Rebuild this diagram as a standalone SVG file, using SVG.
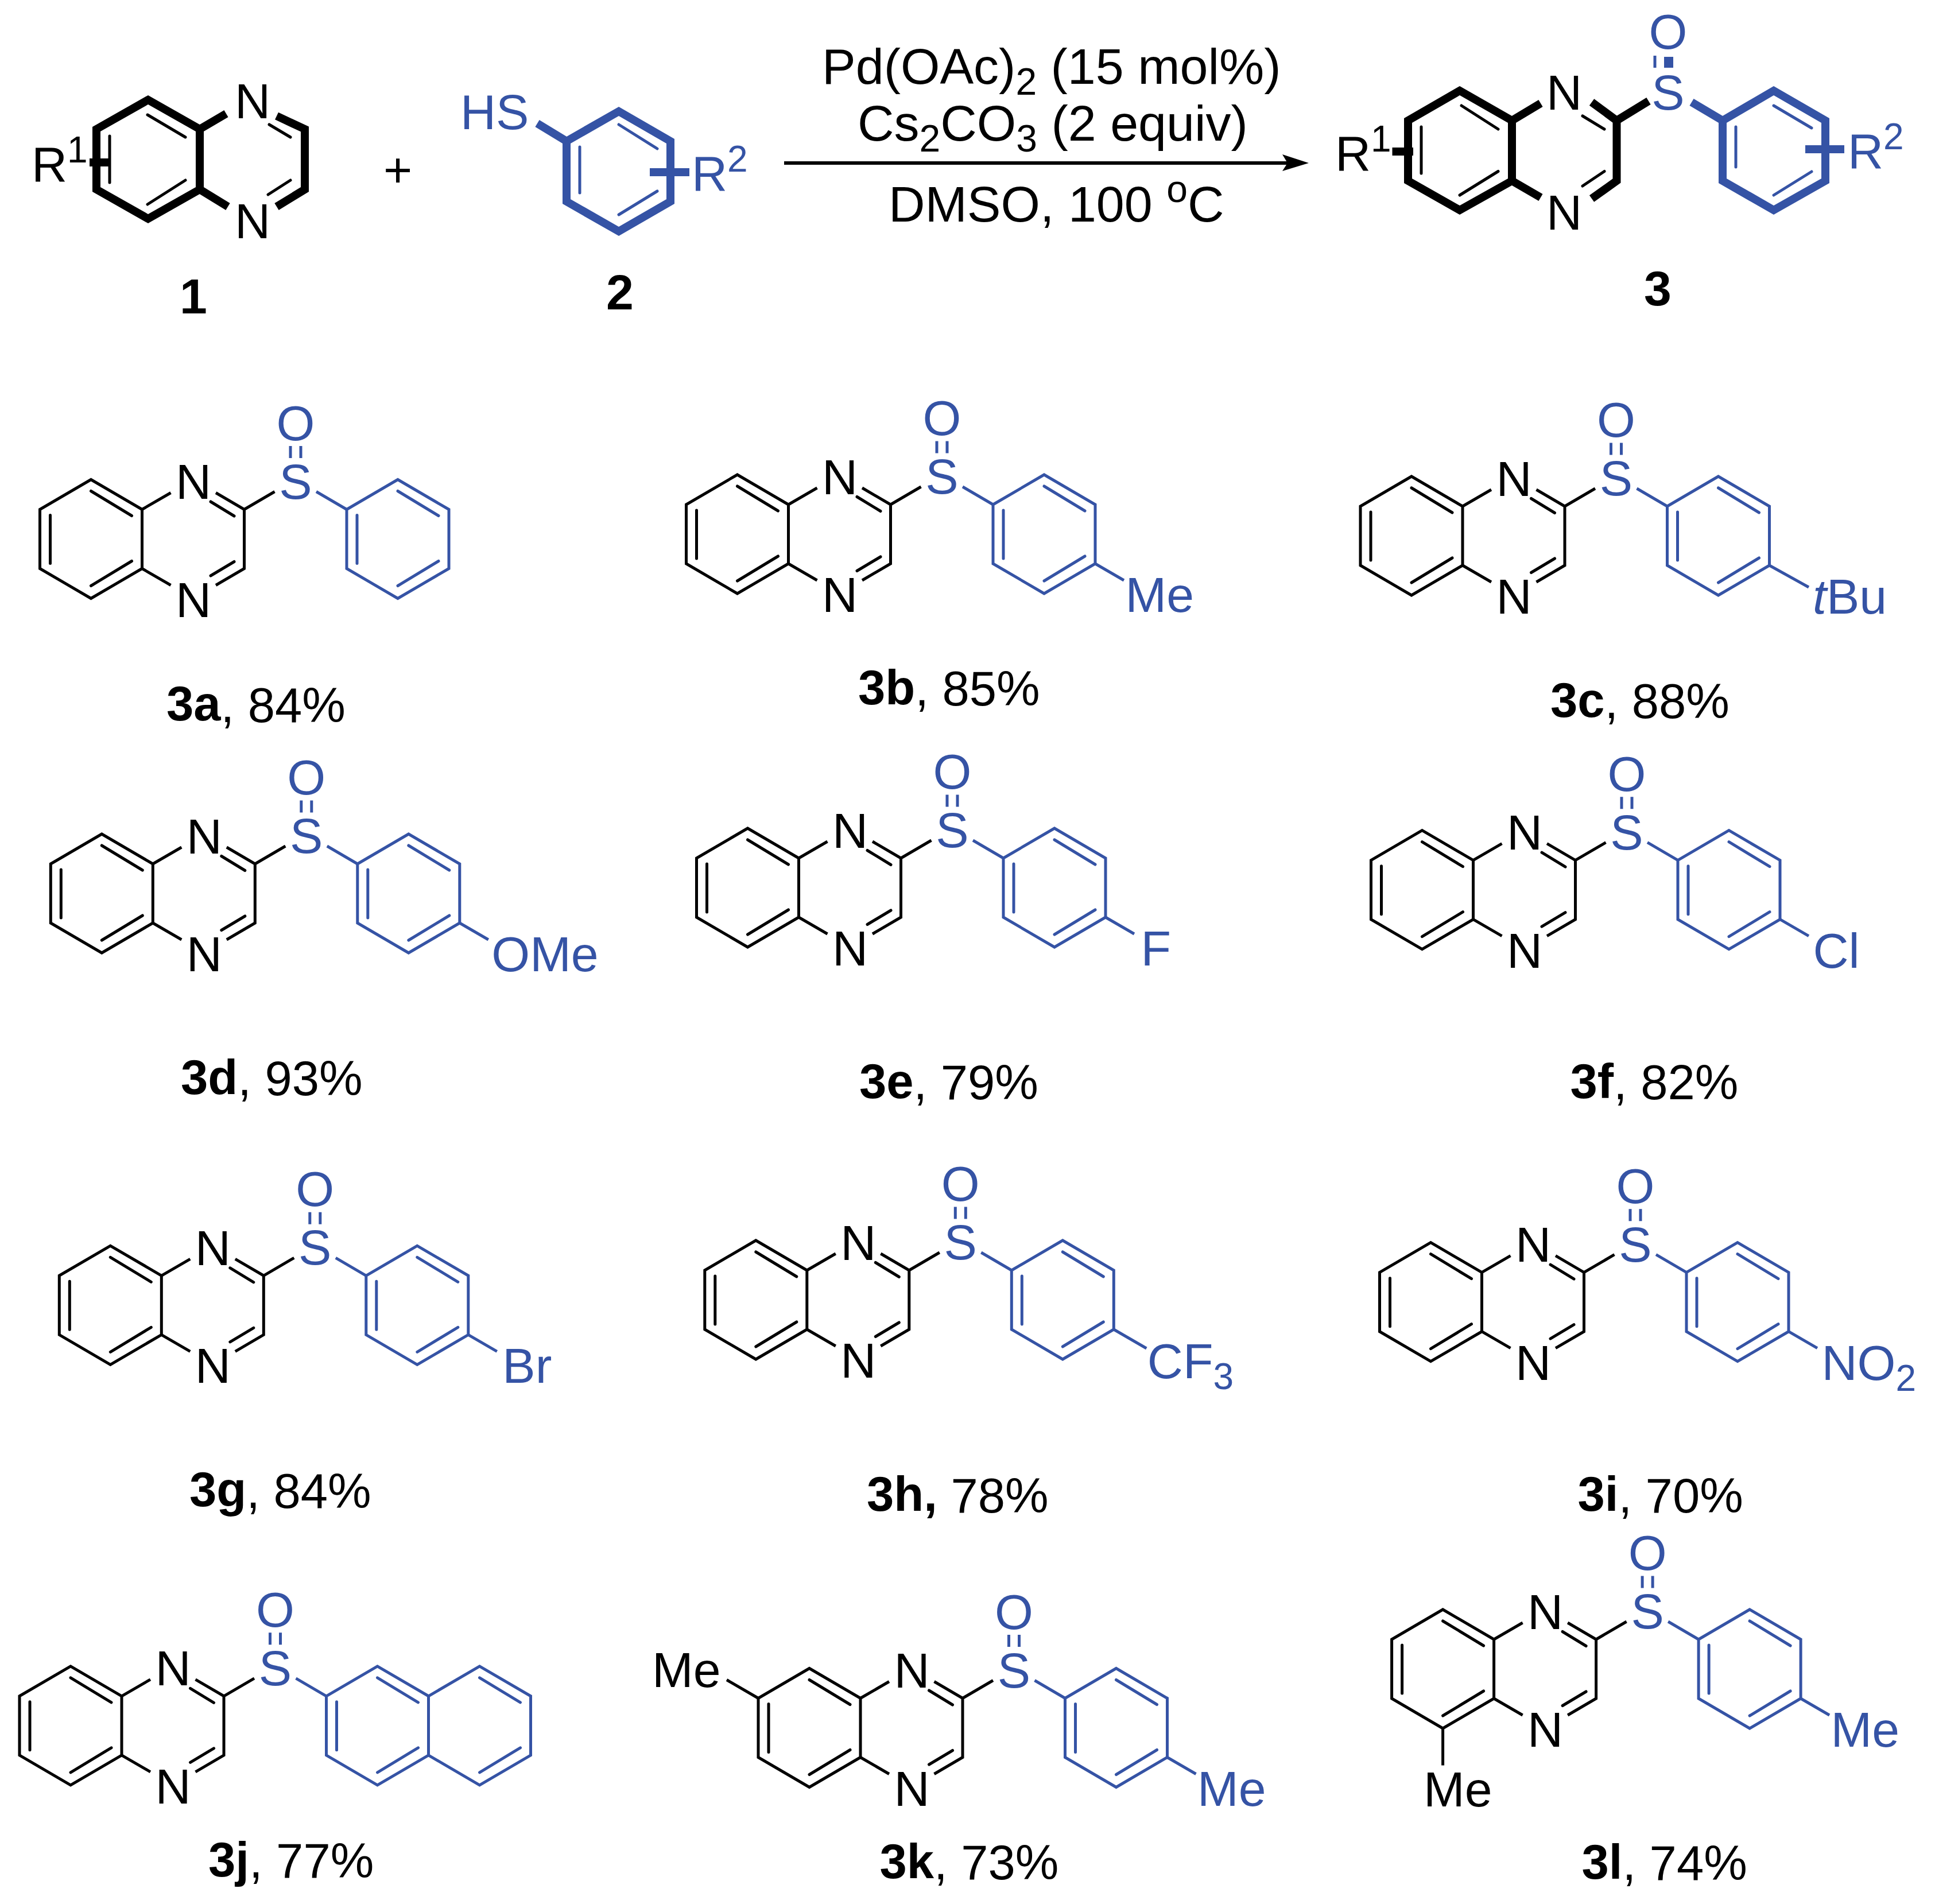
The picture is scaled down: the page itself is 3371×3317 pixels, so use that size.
<svg xmlns="http://www.w3.org/2000/svg" width="3371" height="3317" viewBox="0 0 3371 3317">
<style>
text{font-family:"Liberation Sans",Arial,sans-serif;font-size:86px}
text.y{font-size:85px}
text.r{font-size:88px}
.k{fill:#000}.c{fill:#3553a5}
.m{text-anchor:middle}
.s{font-size:64px}
.r .s{font-size:66px}
.bk,.bu{fill:none;stroke-width:5;stroke-linejoin:miter;stroke-miterlimit:10}
.bk{stroke:#000}.bu{stroke:#3553a5}
.tk,.tu{fill:none;stroke-width:14;stroke-linejoin:miter;stroke-miterlimit:10}
.tk{stroke:#000}.tu{stroke:#3553a5}
.ik,.iu{fill:none;stroke-width:5;stroke-linecap:round}
.ik{stroke:#000}.iu{stroke:#3553a5}
.lk{stroke:#000;stroke-width:5;fill:none}
.b{font-weight:bold}
.i{font-style:italic}
</style>
<defs>
<g id="core">
<path class="bk" d="M0,0L-89,-52L-178,0L-178,103L-89,155L0,103Z"/>
<path class="bk" d="M0,0L50,-29M0,103L50,132M128.500,-29L178,0L178,103L128.500,132M178,0L231,-31"/>
<path class="ik" d="M-160,10V94M-89,-32L-18,11M-89,133L-18,90M119.500,-13.500L160.500,11.500M119.500,115.500L160.500,91"/>
<path class="bu" d="M303.500,-31L356.500,0M258.500,-110.500V-89.500M276.500,-110.500V-89.500"/>
</g>
<g id="ring">
<path class="bu" d="M356.500,0L445.500,-52L534.500,0L534.500,103L445.500,155L356.500,103Z"/>
<path class="iu" d="M374.500,10V94M445.500,-32L516.500,11M445.500,133L516.500,90"/>
</g>
<path id="para" class="bu" d="M534.500,103L584.500,132"/>
</defs>
<rect width="3371" height="3317" fill="#fff"/>

<g id="connectors">
<path d="M1366,284H2245" stroke="#000" stroke-width="6" fill="none"/>
<path d="M2280,284L2234,269L2243,284L2234,298Z" fill="#000"/>
</g>

<g id="conditions">
<text class="k r" x="1432" y="145.500">Pd(OAc)<tspan class="s" dy="19">2</tspan><tspan dy="-19"> (15 mol%)</tspan></text>
<text class="k r" x="1494" y="245">Cs<tspan class="s" dy="19">2</tspan><tspan dy="-19">CO</tspan><tspan class="s" dy="19">3</tspan><tspan dy="-19"> (2 equiv)</tspan></text>
<text class="k r" x="1548" y="385.500">DMSO, 100 <tspan class="s" dy="-34">o</tspan><tspan dy="34">C</tspan></text>
</g>

<g id="compound-1">
<path class="tk" d="M348,225L258,174L168,225L168,330L258,381L348,330Z"/>
<path class="tk" d="M348,225L394,198M348,330L397,360M482,202L531,225L531,330L482,360"/>
<path class="ik" d="M191,237V318M257,200L323,239M257,356L323,314M469,217L506,239M467,339L506,314"/>
<path class="tk" d="M156,283H192"/>
<text class="k" x="409" y="206">N</text>
<text class="k" x="409" y="415">N</text>
<text class="k" x="55" y="316">R<tspan class="s" dy="-33">1</tspan></text>
<text class="k b m" x="337" y="546">1</text>
</g>

<g id="plus"><text class="k" x="668" y="326">+</text></g>

<g id="compound-2">
<path class="tu" d="M987,246L1078,194L1168,246L1168,351L1078,403L987,351Z"/>
<path class="tu" d="M987,246L936,215M1132,300H1201"/>
<path class="iu" d="M1010,256V336M1078,217L1145,259M1078,374L1145,333"/>
<text class="c" x="802" y="225">HS</text>
<text class="c" x="1205" y="332">R<tspan class="s" dy="-33">2</tspan></text>
<text class="k b m" x="1080" y="538.500">2</text>
</g>

<g id="compound-3">
<path class="tk" d="M2634,210L2543,158L2453,210L2453,315L2543,366L2634,315Z"/>
<path class="tk" d="M2634,210L2684,180M2634,315L2684,344M2773,178L2816.500,210L2816.500,315L2773,346M2816.500,210L2872,176"/>
<path class="ik" d="M2476,221V302M2546,184L2610,225M2543,340L2610,298.500M2757,202L2795,225M2757,324L2795,298.500"/>
<path class="tk" d="M2425.500,264H2462"/>
<path class="tu" d="M3001,210L3090,158L3180,210L3180,315L3090,366L3001,315Z"/>
<path class="tu" d="M2947,178L3001,210M3145,260H3213"/>
<path class="iu" d="M3024,221V291M3090,184L3156,223M3090,340L3156,299"/>
<path class="bu" d="M2883,97V118"/>
<path d="M2899,99H2915V118H2899Z" fill="#3553a5"/>
<text class="c m" x="2906" y="85">O</text>
<text class="c m" x="2906" y="191">S</text>
<text class="k" x="2694" y="190.600">N</text>
<text class="k" x="2694" y="400">N</text>
<text class="k" x="2326" y="296.500">R<tspan class="s" dy="-33">1</tspan></text>
<text class="c" x="3219" y="292.600">R<tspan class="s" dy="-33">2</tspan></text>
<text class="k b m" x="2888" y="531.500">3</text>
</g>

<g id="compound-3a" transform="translate(247.500,887.500)"><use href="#core"/><use href="#ring"/>
<text class="k m" x="89.500" y="-18.500">N</text><text class="k m" x="89.500" y="187">N</text><text class="c m" x="267.500" y="-19">S</text><text class="c m" x="267.500" y="-121">O</text></g>
<g id="label-3a"><text class="k y" x="290" y="1255"><tspan class="b">3a</tspan><tspan dy="2.500">, 84%</tspan></text></g>

<g id="compound-3b" transform="translate(1373.500,879)"><use href="#core"/><use href="#ring"/><use href="#para"/>
<text class="k m" x="89.500" y="-18.500">N</text><text class="k m" x="89.500" y="187">N</text><text class="c m" x="267.500" y="-19">S</text><text class="c m" x="267.500" y="-121">O</text>
<text class="c" x="587" y="187">Me</text></g>
<g id="label-3b"><text class="k y" x="1495" y="1226.500"><tspan class="b">3b</tspan><tspan dy="2.500">, 85%</tspan></text></g>

<g id="compound-3c" transform="translate(2548,882)"><use href="#core"/><use href="#ring"/><path class="bu" d="M534.500,103L603,141"/>
<text class="k m" x="89.500" y="-18.500">N</text><text class="k m" x="89.500" y="187">N</text><text class="c m" x="267.500" y="-19">S</text><text class="c m" x="267.500" y="-121">O</text>
<text class="c" x="610" y="187"><tspan class="i">t</tspan>Bu</text></g>
<g id="label-3c"><text class="k y" x="2701" y="1248.500"><tspan class="b">3c</tspan><tspan dy="2.500">, 88%</tspan></text></g>

<g id="compound-3d" transform="translate(266.300,1505)"><use href="#core"/><use href="#ring"/><use href="#para"/>
<text class="k m" x="89.500" y="-18.500">N</text><text class="k m" x="89.500" y="187">N</text><text class="c m" x="267.500" y="-19">S</text><text class="c m" x="267.500" y="-121">O</text>
<text class="c" x="590" y="187">OMe</text></g>
<g id="label-3d"><text class="k y" x="315" y="1905.500"><tspan class="b">3d</tspan><tspan dy="2.500">, 93%</tspan></text></g>

<g id="compound-3e" transform="translate(1391.500,1495)"><use href="#core"/><use href="#ring"/><use href="#para"/>
<text class="k m" x="89.500" y="-18.500">N</text><text class="k m" x="89.500" y="187">N</text><text class="c m" x="267.500" y="-19">S</text><text class="c m" x="267.500" y="-121">O</text>
<text class="c" x="596" y="187">F</text></g>
<g id="label-3e"><text class="k y" x="1497" y="1912.500"><tspan class="b">3e</tspan><tspan dy="2.500">, 79%</tspan></text></g>

<g id="compound-3f" transform="translate(2566.500,1498.700)"><use href="#core"/><use href="#ring"/><use href="#para"/>
<text class="k m" x="89.500" y="-18.500">N</text><text class="k m" x="89.500" y="187">N</text><text class="c m" x="267.500" y="-19">S</text><text class="c m" x="267.500" y="-121">O</text>
<text class="c" x="592" y="187">Cl</text></g>
<g id="label-3f"><text class="k y" x="2735.500" y="1912.500"><tspan class="b">3f</tspan><tspan dy="2.500">, 82%</tspan></text></g>

<g id="compound-3g" transform="translate(281.300,2222.300)"><use href="#core"/><use href="#ring"/><use href="#para"/>
<text class="k m" x="89.500" y="-18.500">N</text><text class="k m" x="89.500" y="187">N</text><text class="c m" x="267.500" y="-19">S</text><text class="c m" x="267.500" y="-121">O</text>
<text class="c" x="594" y="187">Br</text></g>
<g id="label-3g"><text class="k y" x="330" y="2624"><tspan class="b">3g</tspan><tspan dy="2.500">, 84%</tspan></text></g>

<g id="compound-3h" transform="translate(1405.800,2213)"><use href="#core"/><use href="#ring"/><path class="bu" d="M534.500,103L591.500,136"/>
<text class="k m" x="89.500" y="-18.500">N</text><text class="k m" x="89.500" y="187">N</text><text class="c m" x="267.500" y="-19">S</text><text class="c m" x="267.500" y="-121">O</text>
<text class="c" x="593" y="187.700">CF<tspan class="s" dy="19.500">3</tspan></text></g>
<g id="label-3h"><text class="k y" x="1510" y="2632"><tspan class="b">3h,</tspan><tspan dy="2.500"> 78%</tspan></text></g>

<g id="compound-3i" transform="translate(2581.500,2216.700)"><use href="#core"/><use href="#ring"/><use href="#para"/>
<text class="k m" x="89.500" y="-18.500">N</text><text class="k m" x="89.500" y="187">N</text><text class="c m" x="267.500" y="-19">S</text><text class="c m" x="267.500" y="-121">O</text>
<text class="c" x="592" y="187">NO<tspan class="s" dy="19.500">2</tspan></text></g>
<g id="label-3i"><text class="k y" x="2748.500" y="2632"><tspan class="b">3i</tspan><tspan dy="2.500">, 70%</tspan></text></g>

<g id="compound-3j" transform="translate(212,2954.800)"><use href="#core"/><use href="#ring"/>
<path class="bu" d="M534.500,0L623.500,-52L712.500,0L712.500,103L623.500,155L534.500,103"/>
<path class="iu" d="M623.500,-32L694.500,11M623.500,133L694.500,90"/>
<text class="k m" x="89.500" y="-18.500">N</text><text class="k m" x="89.500" y="187">N</text><text class="c m" x="267.500" y="-19">S</text><text class="c m" x="267.500" y="-121">O</text></g>
<g id="label-3j"><text class="k y" x="363" y="3269"><tspan class="b">3j</tspan><tspan dy="1.500">, 77%</tspan></text></g>

<g id="compound-3k" transform="translate(1499,2958.500)"><use href="#core"/><use href="#ring"/><use href="#para"/>
<path class="lk" d="M-178,0L-233,-32"/>
<text class="k m" x="89.500" y="-18.500">N</text><text class="k m" x="89.500" y="187">N</text><text class="c m" x="267.500" y="-19">S</text><text class="c m" x="267.500" y="-121">O</text>
<text class="c" x="587" y="187">Me</text>
<text class="k" x="-363" y="-19.500">Me</text></g>
<g id="label-3k"><text class="k y" x="1532.500" y="3272"><tspan class="b">3k</tspan><tspan dy="2">, 73%</tspan></text></g>

<g id="compound-3l" transform="translate(2602.600,2856)"><use href="#core"/><use href="#ring"/><use href="#para"/>
<path class="lk" d="M-89,155V219.500"/>
<text class="k m" x="89.500" y="-18.500">N</text><text class="k m" x="89.500" y="187">N</text><text class="c m" x="267.500" y="-19">S</text><text class="c m" x="267.500" y="-121">O</text>
<text class="c" x="587" y="187">Me</text>
<text class="k" x="-122.500" y="290.700">Me</text></g>
<g id="label-3l"><text class="k y" x="2755.500" y="3273"><tspan class="b">3l</tspan><tspan dy="2">, 74%</tspan></text></g>
</svg>
